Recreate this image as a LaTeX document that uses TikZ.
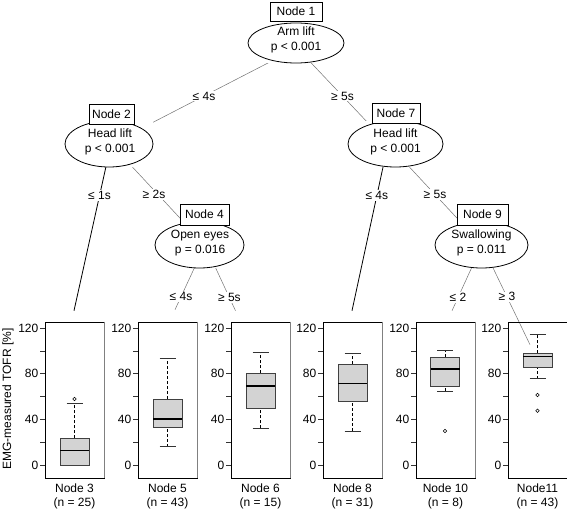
\documentclass[tikz,border=0pt]{standalone}
\usepackage{fontspec}
\setmainfont{Liberation Sans}
\usetikzlibrary{calc,backgrounds}
\definecolor{boxfill}{HTML}{D3D3D3}
\newcommand{\vy}[1]{465-1.1417*(#1)}
\newcommand{\bxplot}[6]{%
  \draw[whisk] (#1,{\vy{#2}}) -- (#1,{\vy{#3}});
  \draw[whisk] (#1,{\vy{#5}}) -- (#1,{\vy{#6}});
  \draw[capline] ({#1-8},{\vy{#2}}) -- ({#1+8},{\vy{#2}});
  \draw[capline] ({#1-8},{\vy{#6}}) -- ({#1+8},{\vy{#6}});
  \filldraw[bxstyle] ({#1-14.5},{\vy{#3}}) rectangle ({#1+14.5},{\vy{#5}});
  \draw[medline] ({#1-14.5},{\vy{#4}}) -- ({#1+14.5},{\vy{#4}});
}
\newcommand{\termpanel}[4]{% left, name, nodeid, n
  \node[panelbox] (#2) at ({#1+29.5},400) {};
  \draw[rightedge] (#2.north east) -- (#2.south east);
  \foreach \v in {0,20,...,120} \draw[tickline] ({#1-5},{\vy{\v}}) -- (#1,{\vy{\v}});
  \foreach \v in {0,40,80,120} \node[ticklab] (#2tl\v) at ({#1-6.5},{\vy{\v}}) {\v};
  \node[termlab] (#2lab) at ({#1+29.5},496.5) {#3\\(n = #4)};
}
\tikzset{
  innerbg/.style={rectangle, fill=white, inner sep=0pt},
  ellline/.style={draw=black, line width=0.8pt},
  innertext/.style={align=center, inner sep=0pt, font=\fontsize{12}{15}\selectfont},
  idbox/.style={draw=black, line width=0.8pt, fill=white, inner sep=0pt, font=\fontsize{12}{14}\selectfont},
  thinedge/.style={draw=black!55, line width=0.5pt},
  thickedge/.style={draw=black, line width=0.8pt},
  elab/.style={fill=white, inner sep=1pt, font=\fontsize{12}{14}\selectfont},
  panelbox/.style={draw=black, line width=0.6pt, minimum width=59, minimum height=156, inner sep=0pt},
  rightedge/.style={draw=black!50, line width=1.6pt},
  tickline/.style={draw=black!80, line width=0.5pt},
  ticklab/.style={anchor=east, inner sep=0pt, font=\fontsize{12}{14}\selectfont},
  termlab/.style={align=center, inner sep=0pt, font=\fontsize{12}{14}\selectfont},
  whisk/.style={draw=black, line width=0.6pt, dash pattern=on 3pt off 2pt},
  capline/.style={draw=black!80, line width=0.8pt},
  bxstyle/.style={fill=boxfill, draw=black!75, line width=0.8pt},
  medline/.style={draw=black, line width=1.3pt},
  outl/.style={draw=black, line width=0.5pt},
}
\begin{document}
\begin{tikzpicture}[x=1pt,y=-1pt]
\useasboundingbox (0,0) rectangle (567,511);

% inner nodes
\node[innerbg, minimum width=96, minimum height=40] (n1) at (296,43) {};
\draw[ellline] (n1.center) ellipse [x radius=48, y radius=20];
\node[innertext] (n1t) at (296,40) {Arm lift\\p < 0.001};
\node[idbox, minimum width=52, minimum height=19] (n1id) at (296,11.5) {Node 1};

\node[innerbg, minimum width=88, minimum height=46] (n2) at (109,144) {};
\draw[ellline] (n2.center) ellipse [x radius=44, y radius=23];
\node[innertext] (n2t) at (110,142) {Head lift\\p < 0.001};
\node[idbox, minimum width=45, minimum height=20] (n2id) at (111.5,114) {Node 2};

\node[innerbg, minimum width=89, minimum height=46] (n4) at (199.5,245) {};
\draw[ellline] (n4.center) ellipse [x radius=44.5, y radius=23];
\node[innertext] (n4t) at (200,243) {Open eyes\\p = 0.016};
\node[idbox, minimum width=49, minimum height=21] (n4id) at (204.5,214.5) {Node 4};

\node[innerbg, minimum width=95, minimum height=46] (n7) at (395.5,144) {};
\draw[ellline] (n7.center) ellipse [x radius=47.5, y radius=23];
\node[innertext] (n7t) at (395.5,142) {Head lift\\p < 0.001};
\node[idbox, minimum width=48, minimum height=20] (n7id) at (396,113) {Node 7};

\node[innerbg, minimum width=93, minimum height=46] (n9) at (481.5,245) {};
\draw[ellline] (n9.center) ellipse [x radius=46.5, y radius=23];
\node[innertext] (n9t) at (481.5,243) {Swallowing\\p = 0.011};
\node[idbox, minimum width=51, minimum height=21] (n9id) at (482.5,214.5) {Node 9};

% terminal panels
\termpanel{45}{t3}{Node 3}{25}
\termpanel{138}{t5}{Node 5}{43}
\termpanel{231}{t6}{Node 6}{15}
\termpanel{323}{t8}{Node 8}{31}
\termpanel{416}{t10}{Node 10}{8}
\termpanel{508}{t11}{Node11}{43}

\node[rotate=90, inner sep=0pt, font=\fontsize{12}{14}\selectfont] (ylab) at (8,399) {EMG-measured TOFR [\%]};

% boxplots
\bxplot{74.5}{0}{0}{12.5}{23.4}{53.7}
\draw[outl] (74.5,{\vy{57.8}}) circle (1.7);
\bxplot{167.5}{16}{33}{40.3}{57.8}{93.4}
\bxplot{260.5}{32.1}{49.6}{69.2}{80.3}{98.7}
\bxplot{352.5}{29.8}{56}{71.5}{88.2}{97.8}
\bxplot{445}{64.8}{69.2}{84}{94.3}{100.7}
\draw[outl] (445,{\vy{29.8}}) circle (1.7);
\bxplot{537.5}{75.6}{85.2}{94.8}{97.8}{114.7}
\draw[outl] (537.5,{\vy{61.3}}) circle (1.7);
\draw[outl] (537.5,{\vy{47.5}}) circle (1.7);

% edges
\begin{pgfonlayer}{background}
\draw[thinedge] ($(n1)+(1,5)$) -- node[elab, pos=0.5] (l12) {≤ 4s} ($(n2)+(2,0)$);
\draw[thinedge] ($(n1)+(1,5)$) -- node[elab, pos=0.5] (l17) {≥ 5s} ($(n7)+(-7.5,0)$);
\draw[thickedge] ($(n2)+(2,0)$) -- node[elab, pos=0.31] (l23) {≤ 1s} ($(t3.north)+(-0.5,-11)$);
\draw[thinedge] ($(n2)+(2,0)$) -- node[elab, pos=0.5, xshift=-4] (l24) {≥ 2s} ($(n4)+(5.5,0)$);
\draw[thinedge] ($(n4)+(5.5,0)$) -- node[elab, pos=0.8] (l45) {≤ 4s} ($(t5.north)+(7.5,-12)$);
\draw[thinedge] ($(n4)+(5.5,0)$) -- node[elab, pos=0.8] (l46) {≥ 5s} ($(t6.north)+(-25,-11)$);
\draw[thickedge] ($(n7)+(-7.5,0)$) -- node[elab, pos=0.31] (l78) {≤ 4s} ($(t8.north)+(-0.5,-11)$);
\draw[thinedge] ($(n7)+(-7.5,0)$) -- node[elab, pos=0.5] (l79) {≥ 5s} ($(n9)+(0.5,0)$);
\draw[thinedge] ($(n9)+(0.5,0)$) -- node[elab, pos=0.8] (l910) {≤ 2} ($(t10.north)+(6.5,-11)$);
\draw[thinedge] ($(n9)+(0.5,0)$) -- node[elab, pos=0.52] (l911) {≥ 3} ($(t11.north)+(-7.5,23)$);
\end{pgfonlayer}
\end{tikzpicture}
\end{document}
